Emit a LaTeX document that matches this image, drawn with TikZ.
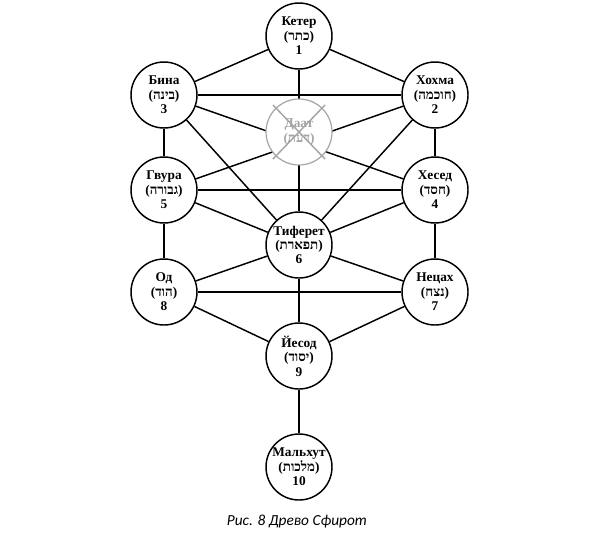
\documentclass[tikz,border=0pt]{standalone}
\usepackage{fontspec}
\setmainfont{Liberation Serif}
\newfontfamily\hebfont[Script=Hebrew]{Liberation Serif}
\newfontfamily\capfont{Carlito}
\TeXXeTstate=1
\newcommand{\heb}[1]{({\hebfont\beginR #1\endR})}
\definecolor{daatgray}{RGB}{165,165,165}
\tikzset{
  sefira/.style={circle,draw,line width=1.1pt,fill=white,minimum size=49.5pt,
    inner sep=0pt,align=center,font=\bfseries\fontsize{10}{10.8}\selectfont},
  daatnode/.style={sefira,draw=daatgray,text=daatgray,line width=0.9pt},
  tree/.style={line width=1.1pt}
}
\begin{document}
\begin{tikzpicture}[x=0.75pt,y=-0.75pt]
    \useasboundingbox (0,0) rectangle (591,547);
    % Sefirot
    \node[sefira] (keter) at (299,36) {Кетер\\\heb{כתר}\\1};
    \node[sefira] (bina) at (164,95) {Бина\\\heb{בינה}\\3};
    \node[sefira] (hokhma) at (435,95) {Хохма\\\heb{חוכמה}\\2};
    \node[sefira] (gvura) at (164,190) {Гвура\\\heb{גבורה}\\5};
    \node[sefira] (hesed) at (435,190) {Хесед\\\heb{חסד}\\4};
    \node[sefira] (tiferet) at (299,245) {Тиферет\\\heb{תפארת}\\6};
    \node[sefira] (od) at (164,292) {Од\\\heb{הוד}\\8};
    \node[sefira] (netzah) at (435,292) {Нецах\\\heb{נצח}\\7};
    \node[sefira] (yesod) at (299,356) {Йесод\\\heb{יסוד}\\9};
    \node[sefira] (malkhut) at (299,467) {Мальхут\\\heb{מלכות}\\10};

    % Paths
    \foreach \a/\b in {keter/bina,keter/hokhma,keter/tiferet,bina/hokhma,
      bina/gvura,bina/tiferet,bina/hesed,hokhma/hesed,hokhma/tiferet,
      hokhma/gvura,gvura/hesed,gvura/tiferet,gvura/od,hesed/tiferet,
      hesed/netzah,tiferet/od,tiferet/netzah,tiferet/yesod,od/netzah,
      od/yesod,netzah/yesod,yesod/malkhut}
    \draw[tree] (\a) -- (\b);

    % Daat, crossed out
    \node[daatnode] (daat) at (299,132) {Даат\\\heb{דעת}};
    \draw[daatgray,line width=1.1pt] ([shift={(-26,-27)}]daat.center) -- ([shift={(26,27)}]daat.center);
    \draw[daatgray,line width=1.1pt] ([shift={(26,-27)}]daat.center) -- ([shift={(-26,27)}]daat.center);

    % Caption
    \node[font=\capfont\itshape\fontsize{11.5}{13}\selectfont] (caption) at (297,522) {Рис. 8 Древо Сфирот};
\end{tikzpicture}
\end{document}
